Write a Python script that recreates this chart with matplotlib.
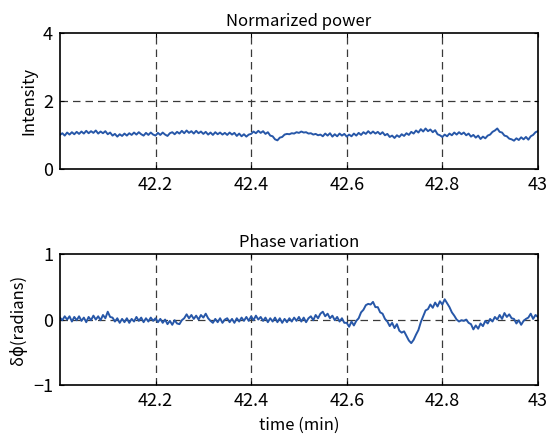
import matplotlib
matplotlib.use("Agg")
import matplotlib.pyplot as plt
import numpy as np

plt.rcParams["font.family"] = ["Noto Sans CJK JP", "DejaVu Sans"]

# samples every 0.005 min from 42.0 to 43.0
time_min = np.round(np.arange(201) * 0.005 + 42.0, 3)

intensity = [
    1.00, 1.05, 0.98, 1.07, 1.01, 1.08, 1.02, 1.09, 1.03, 1.10,
    1.04, 1.12, 1.05, 1.11, 1.06, 1.13, 1.04, 1.10, 1.05, 1.11,
    1.02, 1.07, 0.98, 1.03, 0.95, 1.02, 0.97, 1.04, 0.98, 1.05,
    1.00, 1.07, 1.01, 1.08, 1.02, 0.98, 1.06, 1.00, 1.07, 1.01,
    0.98, 1.06, 1.00, 1.07, 1.01, 0.97, 1.05, 1.08, 1.02, 1.09,
    1.04, 1.12, 1.05, 1.13, 1.06, 1.11, 1.04, 1.12, 1.05, 1.10,
    1.03, 1.09, 1.01, 1.07, 1.00, 1.08, 1.02, 1.07, 1.01, 1.06,
    1.00, 1.07, 1.01, 1.06, 0.97, 1.04, 0.96, 1.02, 0.95, 1.01,
    1.03, 1.10, 1.05, 1.12, 1.06, 1.11, 1.03, 1.08, 0.98, 0.96,
    0.87, 0.84, 0.92, 0.94, 1.01, 1.03, 1.02, 1.05, 1.04, 1.08,
    1.06, 1.10, 1.07, 1.08, 1.04, 1.05, 1.01, 1.03, 0.99, 1.01,
    0.96, 1.04, 0.98, 1.05, 0.95, 1.02, 0.96, 1.04, 0.98, 1.03,
    0.95, 1.01, 0.96, 1.04, 0.98, 1.06, 1.00, 1.08, 1.03, 1.11,
    1.04, 1.10, 1.04, 1.09, 1.02, 1.08, 0.99, 1.03, 0.94, 0.98,
    0.91, 0.99, 0.94, 1.02, 0.97, 1.05, 1.00, 1.09, 1.04, 1.13,
    1.07, 1.17, 1.10, 1.19, 1.11, 1.16, 1.08, 1.14, 1.02, 0.99,
    0.94, 1.01, 0.96, 1.04, 0.99, 1.07, 1.01, 1.08, 1.02, 1.07,
    0.99, 1.04, 0.95, 1.00, 0.92, 0.98, 0.88, 0.95, 0.90, 0.98,
    1.01, 1.09, 1.13, 1.19, 1.09, 1.07, 0.98, 0.96, 0.89, 0.87,
    0.83, 0.90, 0.85, 0.93, 0.87, 0.94, 0.86, 0.96, 1.00, 1.08,
    1.11,
]

phase = [
    0.03, -0.01, 0.05, 0.00, 0.05, -0.03, 0.04, -0.01, 0.05, -0.02,
    0.03, -0.04, 0.04, -0.01, 0.06, 0.00, 0.05, -0.01, 0.07, 0.02,
    0.12, 0.04, 0.03, -0.03, 0.02, -0.05, 0.01, -0.04, 0.02, -0.05,
    0.01, -0.03, 0.04, -0.02, 0.03, -0.04, 0.02, -0.03, 0.03, -0.02,
    0.02, -0.04, 0.01, -0.05, 0.00, -0.07, -0.02, -0.08, -0.01, -0.06,
    -0.07, -0.01, 0.02, 0.08, 0.02, 0.07, 0.01, 0.06, 0.00, 0.07,
    0.03, 0.09, 0.02, -0.02, -0.05, 0.01, -0.04, 0.02, -0.05, 0.00,
    0.02, -0.04, 0.01, -0.05, 0.02, -0.03, 0.03, -0.02, 0.04, -0.02,
    0.05, -0.01, 0.06, 0.00, 0.04, -0.02, 0.03, -0.04, 0.02, -0.03,
    0.03, -0.04, 0.02, -0.05, 0.01, -0.04, 0.02, -0.03, 0.03, -0.02,
    0.04, -0.03, 0.03, -0.04, 0.02, 0.05, -0.01, 0.07, 0.02, 0.09,
    0.12, 0.05, 0.09, 0.02, 0.06, -0.01, 0.04, -0.03, 0.02, -0.05,
    -0.05, -0.11, -0.03, -0.09, -0.02, 0.02, 0.11, 0.15, 0.22, 0.24,
    0.23, 0.27, 0.19, 0.19, 0.11, 0.09, 0.01, -0.03, -0.10, -0.05,
    -0.13, -0.07, -0.17, -0.20, -0.18, -0.25, -0.32, -0.36, -0.31, -0.23,
    -0.16, -0.04, 0.05, 0.14, 0.16, 0.23, 0.18, 0.26, 0.20, 0.28,
    0.23, 0.31, 0.25, 0.19, 0.11, 0.06, 0.00, -0.03, -0.01, -0.02,
    0.00, -0.05, -0.07, -0.15, -0.09, -0.14, -0.06, -0.10, -0.02, -0.06,
    0.01, -0.03, 0.04, 0.00, 0.07, 0.01, 0.10, 0.04, 0.08, 0.02,
    0.01, -0.06, -0.01, -0.08, -0.02, 0.01, 0.03, 0.09, 0.01, 0.07,
    0.04,
]

x_ticks = [42.2, 42.4, 42.6, 42.8, 43.0]
x_ticklabels = ["42.2", "42.4", "42.6", "42.8", "43"]

line_color = "#2757a8"
grid_kw = dict(color="#3a3a3a", linestyle=(0, (6, 4)), linewidth=0.9)

fig = plt.figure(figsize=(5.5, 4.42), dpi=100)
ax1 = fig.add_axes([0.109, 0.618, 0.869, 0.307])
ax2 = fig.add_axes([0.109, 0.129, 0.869, 0.296])


def style(ax, yticks, ylabel, title):
    ax.set_xlim(42.0, 43.0)
    ax.set_xticks(x_ticks)
    ax.set_xticklabels(x_ticklabels)
    ax.set_yticks(yticks)
    ax.set_ylim(yticks[0], yticks[-1])
    ax.set_axisbelow(True)
    ax.grid(True, **grid_kw)
    # gridlines on the box edges would sit over the spines
    ax.get_xgridlines()[-1].set_visible(False)
    ax.get_ygridlines()[0].set_visible(False)
    ax.get_ygridlines()[-1].set_visible(False)
    ax.tick_params(direction="in", length=3, labelsize=13, top=True, right=True, pad=5)
    ax.set_ylabel(ylabel, fontsize=12, labelpad=4)
    ax.set_title(title, fontsize=12, pad=5)
    for sp in ax.spines.values():
        sp.set_linewidth(1.2)
        sp.set_zorder(3)


ax1.plot(time_min, intensity, color=line_color, lw=1.4)
style(ax1, [0, 2, 4], "Intensity", "Normarized power")

ax2.plot(time_min, phase, color=line_color, lw=1.4)
style(ax2, [-1, 0, 1], "δϕ(radians)", "Phase variation")
ax2.set_xlabel("time (min)", fontsize=12, labelpad=5)

fig.savefig("out.png", dpi=100)
